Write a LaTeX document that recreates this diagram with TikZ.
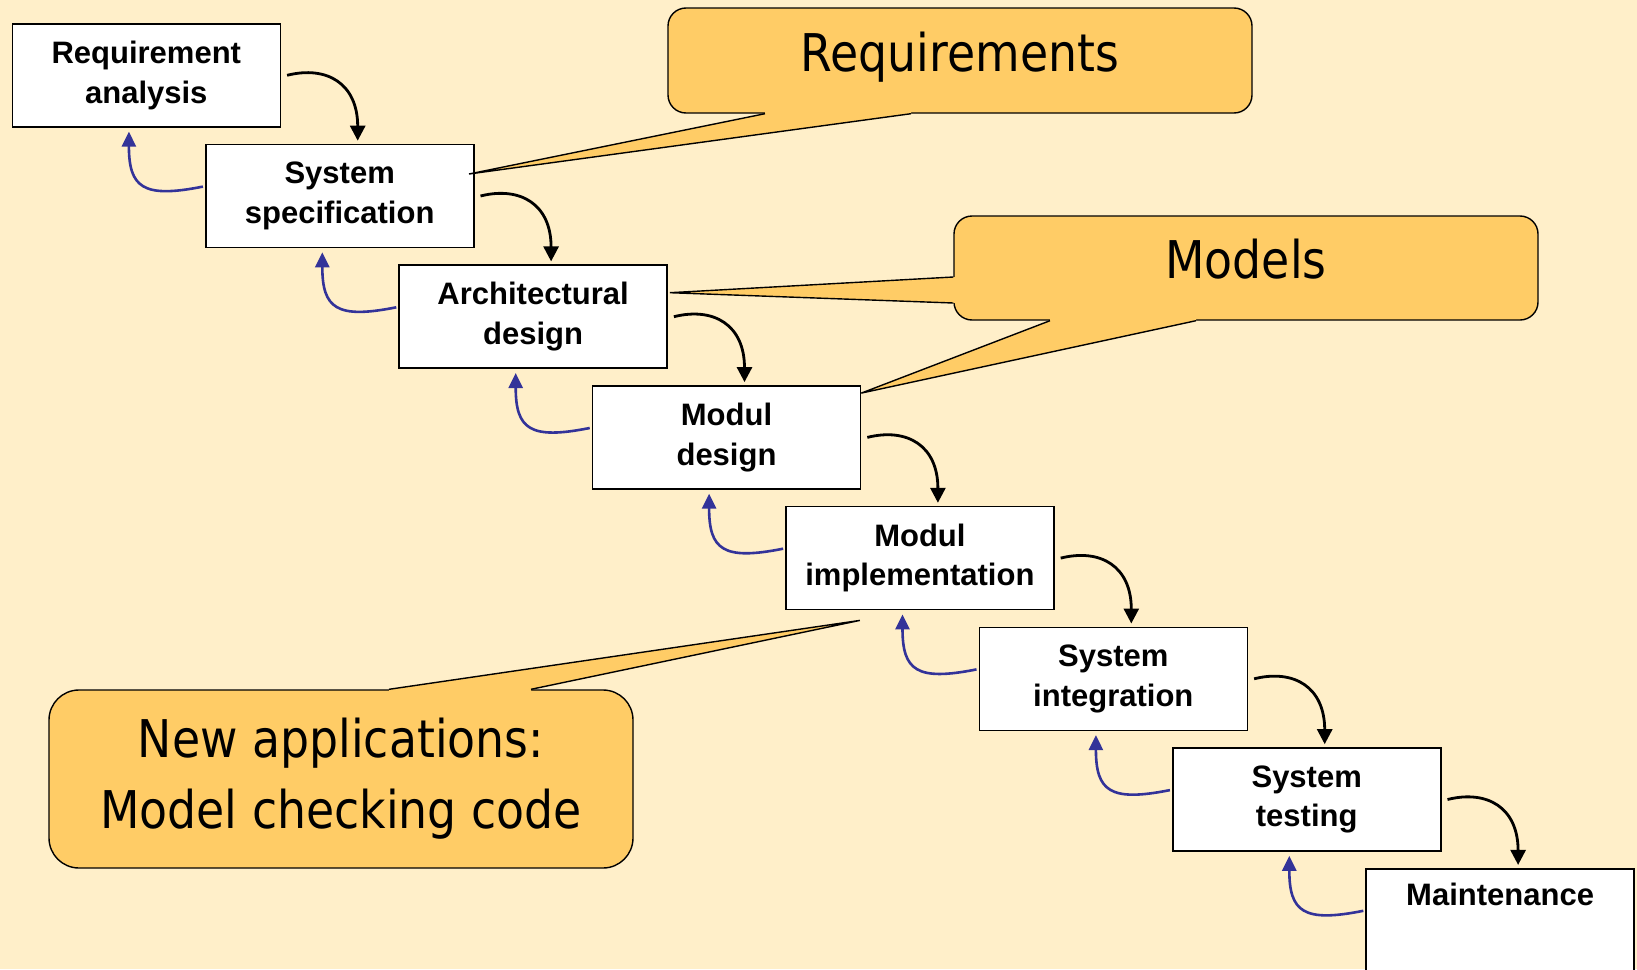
\documentclass[tikz,border=0pt]{standalone}
\usepackage{fontspec}
\setmainfont{Liberation Sans}
\newfontfamily\notefont[FakeStretch=0.88]{DejaVu Sans}
\usepackage{tikz}
\usetikzlibrary{positioning,arrows.meta}
\definecolor{pagebg}{HTML}{FFEFC9}
\definecolor{notefill}{HTML}{FFCC66}
\definecolor{backblue}{HTML}{333399}
\tikzset{
  phase/.style={rectangle, draw, thick, fill=white, minimum width=134pt, minimum height=51.5pt,
                inner sep=2pt, align=center, font=\fontsize{15.5}{19.8}\selectfont\bfseries},
  fwd/.style={-{Triangle[width=7.5pt,length=7.5pt]}, line width=1.4pt, shorten >=1.5pt},
  back/.style={-{Triangle[width=7pt,length=7.5pt]}, line width=1.3pt, color=backblue, shorten >=2pt},
  note/.style={rectangle, draw, line width=0.7pt, fill=notefill, minimum width=292pt,
               align=center, font=\fontsize{26}{35.5}\selectfont\notefont},
  oneline/.style={text height=20pt, text depth=9.5pt}, % lifts the single line a little
  pointer/.style={draw, line width=0.7pt, line join=miter},
}

\begin{document}
\begin{tikzpicture}[x=0.5pt,y=-0.5pt]
\fill[pagebg] (0,0) rectangle (1637,969);
\useasboundingbox (0,0) rectangle (1637,969);

%Nodes
\node[phase, anchor=north west] (req) at (11.5,23) {Requirement\\analysis};
\node[phase] (spec) [below right=8.05pt and -38.1pt of req] {System\\specification};
\node[phase] (arch) [below right=8.05pt and -38.1pt of spec] {Architectural\\design};
\node[phase] (mdesign) [below right=8.05pt and -38.1pt of arch] {Modul\\design};
\node[phase] (mimpl) [below right=8.05pt and -38.1pt of mdesign] {Modul\\implementation};
\node[phase] (integ) [below right=8.05pt and -38.1pt of mimpl] {System\\integration};
\node[phase] (test) [below right=8.05pt and -38.1pt of integ] {System\\testing};
\node[phase] (maint) [below right=8.05pt and -38.1pt of test] {Maintenance\\\strut};

%Lines
\draw[fwd] ([xshift=3pt]req.east) .. controls +(20pt,5pt) and +(0pt,30pt) .. ([xshift=9pt]spec.north);
\draw[fwd] ([xshift=3pt]spec.east) .. controls +(20pt,5pt) and +(0pt,30pt) .. ([xshift=9pt]arch.north);
\draw[fwd] ([xshift=3pt]arch.east) .. controls +(20pt,5pt) and +(0pt,30pt) .. ([xshift=9pt]mdesign.north);
\draw[fwd] ([xshift=3pt]mdesign.east) .. controls +(20pt,5pt) and +(0pt,30pt) .. ([xshift=9pt]mimpl.north);
\draw[fwd] ([xshift=3pt]mimpl.east) .. controls +(20pt,5pt) and +(0pt,30pt) .. ([xshift=9pt]integ.north);
\draw[fwd] ([xshift=3pt]integ.east) .. controls +(20pt,5pt) and +(0pt,30pt) .. ([xshift=9pt]test.north);
\draw[fwd] ([xshift=3pt]test.east) .. controls +(20pt,5pt) and +(0pt,30pt) .. ([xshift=9pt]maint.north);

\draw[back] ([xshift=-1pt,yshift=4.7pt]spec.west) .. controls +(-30pt,-6pt) and +(0pt,-30pt) .. ([xshift=-8.7pt]req.south);
\draw[back] ([xshift=-1pt,yshift=4.7pt]arch.west) .. controls +(-30pt,-6pt) and +(0pt,-30pt) .. ([xshift=-8.7pt]spec.south);
\draw[back] ([xshift=-1pt,yshift=4.7pt]mdesign.west) .. controls +(-30pt,-6pt) and +(0pt,-30pt) .. ([xshift=-8.7pt]arch.south);
\draw[back] ([xshift=-1pt,yshift=4.7pt]mimpl.west) .. controls +(-30pt,-6pt) and +(0pt,-30pt) .. ([xshift=-8.7pt]mdesign.south);
\draw[back] ([xshift=-1pt,yshift=4.7pt]integ.west) .. controls +(-30pt,-6pt) and +(0pt,-30pt) .. ([xshift=-8.7pt]mimpl.south);
\draw[back] ([xshift=-1pt,yshift=4.7pt]test.west) .. controls +(-30pt,-6pt) and +(0pt,-30pt) .. ([xshift=-8.7pt]integ.south);
\draw[back] ([xshift=-1pt,yshift=4.7pt]maint.west) .. controls +(-30pt,-6pt) and +(0pt,-30pt) .. ([xshift=-8.7pt]test.south);

%Callouts
\node[note, oneline, minimum height=52.5pt, rounded corners=9pt] (reqnote) at (960,60.5) {Requirements};
\node[note, oneline, minimum height=52pt, rounded corners=9pt] (modnote) at (1246,268) {Models};
\node[note, minimum height=89pt, rounded corners=15pt] (appnote) at (341,779) {New applications:\\Model checking code};

\coordinate (rq1) at ([xshift=-97.5pt]reqnote.south);
\coordinate (rq2) at ([xshift=-24.5pt]reqnote.south);
\coordinate (rqtip) at ([xshift=-2.75pt,yshift=11pt]spec.east);
\fill[notefill] ([yshift=1.5pt]rq1) -- (rq1) -- (rqtip) -- (rq2) -- ([yshift=1.5pt]rq2) -- cycle;
\draw[pointer] (rq1) -- (rqtip) -- (rq2);

\coordinate (md1) at ([yshift=-4.5pt]modnote.west);
\coordinate (md2) at ([yshift=-17.5pt]modnote.west);
\coordinate (mdtip) at ([xshift=1pt,yshift=12pt]arch.east);
\fill[notefill] ([xshift=1.5pt]md1) -- (md1) -- (mdtip) -- (md2) -- ([xshift=1.5pt]md2) -- cycle;
\draw[pointer] (md1) -- (mdtip) -- (md2);

\coordinate (mb1) at ([xshift=-98pt]modnote.south);
\coordinate (mb2) at ([xshift=-25pt]modnote.south);
\coordinate (mbtip) at ([yshift=-4pt]mdesign.north east);
\fill[notefill] ([yshift=1.5pt]mb1) -- (mb1) -- (mbtip) -- (mb2) -- ([yshift=1.5pt]mb2) -- cycle;
\draw[pointer] (mb1) -- (mbtip) -- (mb2);

\coordinate (ap1) at ([xshift=24pt]appnote.north);
\coordinate (ap2) at ([xshift=95pt]appnote.north);
\coordinate (aptip) at ([xshift=-30pt,yshift=-5pt]mimpl.south);
\fill[notefill] ([yshift=-1.5pt]ap1) -- (ap1) -- (aptip) -- (ap2) -- ([yshift=-1.5pt]ap2) -- cycle;
\draw[pointer] (ap1) -- (aptip) -- (ap2);
\end{tikzpicture}
\end{document}
